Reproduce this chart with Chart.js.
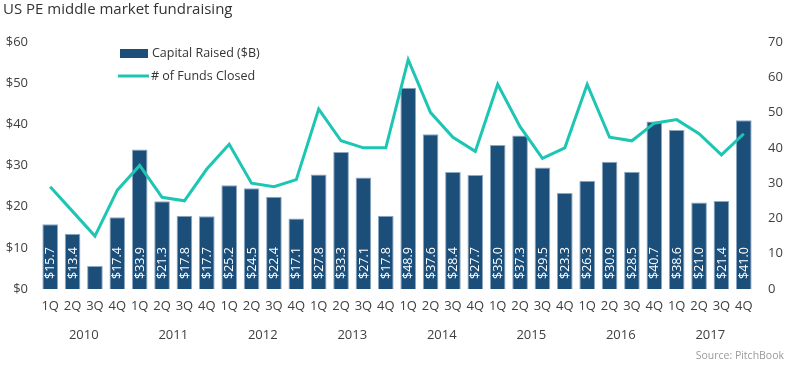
<!DOCTYPE html>
<html>
<head>
<meta charset="utf-8">
<script src="https://cdn.jsdelivr.net/npm/chart.js@4"></script>
<style>
  html, body { margin: 0; padding: 0; background: #fff; }
  #wrap { position: relative; width: 789px; height: 366px; }
</style>
</head>
<body>
<div id="wrap"><canvas id="fundChart" width="789" height="366"></canvas></div>
<script>
// quarters 2010 1Q .. 2017 4Q
const years = ['2010', '2011', '2012', '2013', '2014', '2015', '2016', '2017'];
const quarters = ['1Q', '2Q', '3Q', '4Q'];
const labels = years.flatMap(() => quarters);

const capitalRaised = [
  15.7, 13.4, 5.6, 17.4,
  33.9, 21.3, 17.8, 17.7,
  25.2, 24.5, 22.4, 17.1,
  27.8, 33.3, 27.1, 17.8,
  48.9, 37.6, 28.4, 27.7,
  35.0, 37.3, 29.5, 23.3,
  26.3, 30.9, 28.5, 40.7,
  38.6, 21.0, 21.4, 41.0
];
const fundsClosed = [
  29, 22, 15, 28,
  35, 26, 25, 34,
  41, 30, 29, 31,
  51, 42, 40, 40,
  65, 50, 43, 39,
  58, 46, 37, 40,
  58, 43, 42, 47,
  48, 44, 38, 44
];

const barColor = '#1c4e7a';
const lineColor = '#1cc6b3';
const textColor = '#404040';
const font = '"Open Sans", sans-serif';

// title, legend, year labels, source, value labels
const extras = {
  id: 'extras',
  afterDatasetsDraw(chart) {
    const { ctx } = chart;
    const meta = chart.getDatasetMeta(1); // bars
    ctx.save();
    ctx.fillStyle = '#fff';
    ctx.font = '12.5px ' + font;
    ctx.textAlign = 'left';
    ctx.textBaseline = 'middle';
    meta.data.forEach((bar, i) => {
      const v = capitalRaised[i];
      if (v < 10) return; // too short for a label
      ctx.save();
      ctx.translate(bar.x + 0.5, bar.base - 10);
      ctx.rotate(-Math.PI / 2);
      ctx.fillText('$' + v.toFixed(1), 0, 0);
      ctx.restore();
    });
    ctx.restore();
  },
  afterDraw(chart) {
    const { ctx } = chart;
    const x = chart.scales.x;
    ctx.save();
    // title
    ctx.fillStyle = '#333';
    ctx.font = '15px ' + font;
    ctx.textAlign = 'left';
    ctx.textBaseline = 'middle';
    ctx.fillText('US PE middle market fundraising', 3, 10);

    // legend
    ctx.font = '12.5px ' + font;
    ctx.fillStyle = barColor;
    ctx.fillRect(120, 49, 28, 9);
    ctx.strokeStyle = lineColor;
    ctx.lineWidth = 3;
    ctx.beginPath();
    ctx.moveTo(118, 76);
    ctx.lineTo(149, 76);
    ctx.stroke();
    ctx.fillStyle = '#333';
    ctx.fillText('Capital Raised ($B)', 152, 53);
    ctx.fillText('# of Funds Closed', 151, 76);

    // year labels
    ctx.fillStyle = textColor;
    ctx.font = '13px ' + font;
    ctx.textAlign = 'center';
    years.forEach((yr, i) => {
      const cx = (x.getPixelForValue(i * 4 + 1) + x.getPixelForValue(i * 4 + 2)) / 2;
      ctx.fillText(yr, cx, 335);
    });

    // source
    ctx.fillStyle = '#9a9a9a';
    ctx.font = '10.5px ' + font;
    ctx.textAlign = 'right';
    ctx.fillText('Source: PitchBook', 784, 356);
    ctx.restore();
  }
};

new Chart(document.getElementById('fundChart'), {
  data: {
    labels: labels,
    datasets: [
      {
        type: 'line',
        label: '# of Funds Closed',
        data: fundsClosed,
        yAxisID: 'y1',
        borderColor: lineColor,
        borderWidth: 3,
        pointRadius: 0,
        tension: 0,
        order: 1
      },
      {
        type: 'bar',
        label: 'Capital Raised ($B)',
        data: capitalRaised,
        yAxisID: 'y',
        backgroundColor: barColor,
        borderColor: '#8ea9c4',
        borderWidth: { top: 1, left: 1, right: 1, bottom: 0 },
        categoryPercentage: 0.7,
        barPercentage: 1,
        order: 2
      }
    ]
  },
  options: {
    responsive: false,
    animation: false,
    layout: { padding: { top: 42, bottom: 0, left: 0, right: 0 } },
    plugins: {
      legend: { display: false },
      tooltip: { enabled: false }
    },
    scales: {
      x: {
        grid: { display: false, drawTicks: false },
        border: { display: false },
        ticks: { color: textColor, font: { family: font, size: 13 }, padding: 9, maxRotation: 0, autoSkip: false },
        afterFit(s) { s.height = 77; }
      },
      y: {
        position: 'left',
        min: 0, max: 60,
        grid: { display: false, drawTicks: false },
        border: { display: false },
        ticks: {
          stepSize: 10,
          color: textColor,
          font: { family: font, size: 13 },
          padding: 11,
          callback: v => '$' + v
        },
        afterFit(s) { s.width = 39; }
      },
      y1: {
        position: 'right',
        min: 0, max: 70,
        grid: { display: false, drawTicks: false },
        border: { display: false },
        ticks: {
          stepSize: 10,
          color: textColor,
          font: { family: font, size: 13 },
          padding: 13
        },
        afterFit(s) { s.width = 34; }
      }
    }
  },
  plugins: [extras]
});
</script>
</body>
</html>
